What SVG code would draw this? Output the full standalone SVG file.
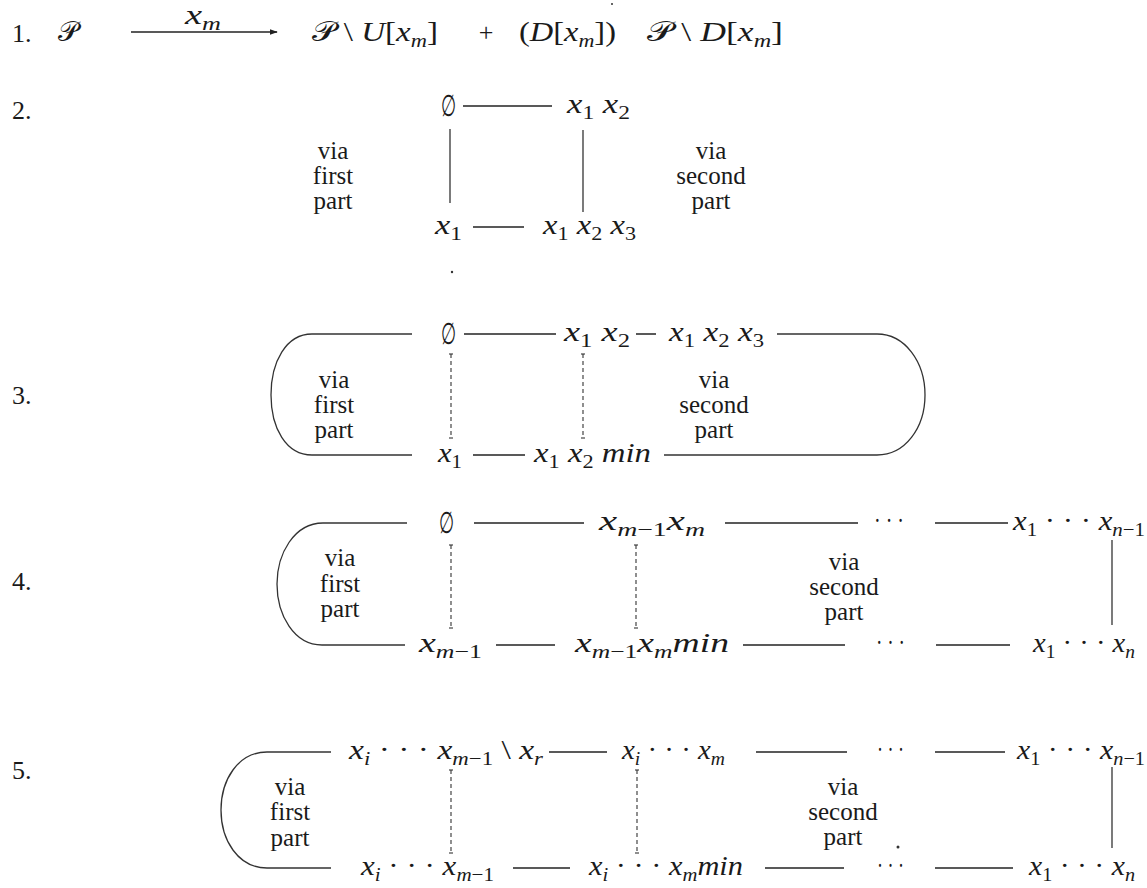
<svg xmlns="http://www.w3.org/2000/svg" width="1147" height="888" viewBox="0 0 1147 888">
<defs>
<style>
text{font-family:"Liberation Serif","Times New Roman","DejaVu Serif",serif;fill:#1a1a1a}
.n{font-size:26px}
.m{font-size:28px;font-style:italic}
.u{font-style:normal}
.sb{font-size:19px}
.w{font-size:25px;text-anchor:middle}
.cal{font-family:"DejaVu Sans","Noto Sans",sans-serif;font-style:normal;font-weight:normal}
.e{font-size:30px;font-style:normal}
.ln{stroke:#222;stroke-width:1.5;fill:none}
.th{stroke:#333;stroke-width:1.3;fill:none}
.dash{stroke:#333;stroke-width:1.1;stroke-dasharray:4 3;fill:none}
.tk{stroke:#333;stroke-width:1.1}
</style>
<marker id="ah" viewBox="0 0 10 10" refX="9" refY="5" markerWidth="8" markerHeight="8" orient="auto" markerUnits="userSpaceOnUse">
<path d="M0,1.5 L10,5 L0,8.5 z" fill="#222"/>
</marker>
</defs>
<g font-family="Liberation Serif, DejaVu Serif, serif">

<!-- Row labels -->
<g id="labels">
<text class="n" x="12" y="42">1.</text>
<text class="n" x="12" y="119">2.</text>
<text class="n" x="12" y="404">3.</text>
<text class="n" x="12" y="590">4.</text>
<text class="n" x="12" y="779">5.</text>
</g>

<!-- Row 1 -->
<g id="r1-P"><text class="m" x="58" y="41"><tspan class="cal">𝒫</tspan></text></g>
<g id="r1-xm"><text class="m" x="185" y="24" textLength="36" lengthAdjust="spacingAndGlyphs">x<tspan class="sb" dy="6">m</tspan></text></g>
<g id="r1-PU"><text class="m" x="312" y="41" textLength="126" lengthAdjust="spacingAndGlyphs"><tspan class="cal">𝒫</tspan><tspan class="u"> \ </tspan>U<tspan class="u">[</tspan>x<tspan class="sb" dy="6">m</tspan><tspan class="u" dy="-6">]</tspan></text></g>
<g id="r1-plus"><text class="n" x="486" y="41" text-anchor="middle">+</text></g>
<g id="r1-D"><text class="m" x="519" y="41" textLength="97" lengthAdjust="spacingAndGlyphs"><tspan class="u">(</tspan>D<tspan class="u">[</tspan>x<tspan class="sb" dy="6">m</tspan><tspan class="u" dy="-6">])</tspan></text></g>
<g id="r1-PD"><text class="m" x="647" y="41" textLength="136" lengthAdjust="spacingAndGlyphs"><tspan class="cal">𝒫</tspan><tspan class="u"> \ </tspan>D<tspan class="u">[</tspan>x<tspan class="sb" dy="6">m</tspan><tspan class="u" dy="-6">]</tspan></text></g>

<!-- Row 2 -->
<g id="r2-empty"><text class="e" x="441" y="116" textLength="15" lengthAdjust="spacingAndGlyphs">∅</text></g>
<g id="r2-x1x2"><text class="m" x="567" y="113" textLength="63" lengthAdjust="spacingAndGlyphs">x<tspan class="sb u" dy="6">1</tspan><tspan dy="-6"> x</tspan><tspan class="sb u" dy="6">2</tspan></text></g>
<g id="r2-x1"><text class="m" x="435" y="234" textLength="27" lengthAdjust="spacingAndGlyphs">x<tspan class="sb u" dy="6">1</tspan></text></g>
<g id="r2-x1x2x3"><text class="m" x="543" y="234" textLength="93" lengthAdjust="spacingAndGlyphs">x<tspan class="sb u" dy="6">1</tspan><tspan dy="-6"> x</tspan><tspan class="sb u" dy="6">2</tspan><tspan dy="-6"> x</tspan><tspan class="sb u" dy="6">3</tspan></text></g>
<g id="r2-via1"><text class="w" x="333" y="159">via</text><text class="w" x="333" y="184">first</text><text class="w" x="333" y="209">part</text></g>
<g id="r2-via2"><text class="w" x="711" y="159">via</text><text class="w" x="711" y="184">second</text><text class="w" x="711" y="209">part</text></g>

<!-- Row 3 -->
<g id="r3-empty"><text class="e" x="441" y="344" textLength="15" lengthAdjust="spacingAndGlyphs">∅</text></g>
<g id="r3-x1x2"><text class="m" x="564" y="341" textLength="66" lengthAdjust="spacingAndGlyphs">x<tspan class="sb u" dy="6">1</tspan><tspan dy="-6"> x</tspan><tspan class="sb u" dy="6">2</tspan></text></g>
<g id="r3-x1x2x3"><text class="m" x="669" y="341" textLength="95" lengthAdjust="spacingAndGlyphs">x<tspan class="sb u" dy="6">1</tspan><tspan dy="-6"> x</tspan><tspan class="sb u" dy="6">2</tspan><tspan dy="-6"> x</tspan><tspan class="sb u" dy="6">3</tspan></text></g>
<g id="r3-x1"><text class="m" x="438" y="462" textLength="24" lengthAdjust="spacingAndGlyphs">x<tspan class="sb u" dy="6">1</tspan></text></g>
<g id="r3-x1x2min"><text class="m" x="534" y="462" textLength="117" lengthAdjust="spacingAndGlyphs">x<tspan class="sb u" dy="6">1</tspan><tspan dy="-6"> x</tspan><tspan class="sb u" dy="6">2</tspan><tspan dy="-6"> min</tspan></text></g>
<g id="r3-via1"><text class="w" x="334" y="388">via</text><text class="w" x="334" y="413">first</text><text class="w" x="334" y="438">part</text></g>
<g id="r3-via2"><text class="w" x="714" y="388">via</text><text class="w" x="714" y="413">second</text><text class="w" x="714" y="438">part</text></g>

<!-- Row 4 -->
<g id="r4-empty"><text class="e" x="439" y="533" textLength="15" lengthAdjust="spacingAndGlyphs">∅</text></g>
<g id="r4-xm1xm"><text class="m" x="599" y="530" textLength="106" lengthAdjust="spacingAndGlyphs">x<tspan class="sb" dy="6">m<tspan class="u">−1</tspan></tspan><tspan dy="-6">x</tspan><tspan class="sb" dy="6">m</tspan></text></g>
<g id="r4-dots1"><text class="m u" x="874" y="530" textLength="30" lengthAdjust="spacingAndGlyphs">· · ·</text></g>
<g id="r4-x1xn1"><text class="m" x="1013" y="530" textLength="132" lengthAdjust="spacingAndGlyphs">x<tspan class="sb u" dy="6">1</tspan><tspan class="u" dy="-6"> · · · </tspan>x<tspan class="sb" dy="6">n<tspan class="u">−1</tspan></tspan></text></g>
<g id="r4-xm1"><text class="m" x="419" y="652" textLength="63" lengthAdjust="spacingAndGlyphs">x<tspan class="sb" dy="6">m<tspan class="u">−1</tspan></tspan></text></g>
<g id="r4-xm1xmmin"><text class="m" x="575" y="652" textLength="154" lengthAdjust="spacingAndGlyphs">x<tspan class="sb" dy="6">m<tspan class="u">−1</tspan></tspan><tspan dy="-6">x</tspan><tspan class="sb" dy="6">m</tspan><tspan dy="-6">min</tspan></text></g>
<g id="r4-dots2"><text class="m u" x="876" y="652" textLength="29" lengthAdjust="spacingAndGlyphs">· · ·</text></g>
<g id="r4-x1xn"><text class="m" x="1033" y="652" textLength="102" lengthAdjust="spacingAndGlyphs">x<tspan class="sb u" dy="6">1</tspan><tspan class="u" dy="-6"> · · · </tspan>x<tspan class="sb" dy="6">n</tspan></text></g>
<g id="r4-via1"><text class="w" x="340" y="566">via</text><text class="w" x="340" y="592">first</text><text class="w" x="340" y="617">part</text></g>
<g id="r4-via2"><text class="w" x="844" y="570">via</text><text class="w" x="844" y="595">second</text><text class="w" x="844" y="620">part</text></g>

<!-- Row 5 -->
<g id="r5-top1"><text class="m" x="349" y="759" textLength="194" lengthAdjust="spacingAndGlyphs">x<tspan class="sb" dy="6">i</tspan><tspan class="u" dy="-6"> · · · </tspan>x<tspan class="sb" dy="6">m<tspan class="u">−1</tspan></tspan><tspan class="u" dy="-6"> \ </tspan>x<tspan class="sb" dy="6">r</tspan></text></g>
<g id="r5-top2"><text class="m" x="622" y="759" textLength="103" lengthAdjust="spacingAndGlyphs">x<tspan class="sb" dy="6">i</tspan><tspan class="u" dy="-6"> · · · </tspan>x<tspan class="sb" dy="6">m</tspan></text></g>
<g id="r5-dots1"><text class="m u" x="877" y="759" textLength="27" lengthAdjust="spacingAndGlyphs">· · ·</text></g>
<g id="r5-x1xn1"><text class="m" x="1017" y="759" textLength="128" lengthAdjust="spacingAndGlyphs">x<tspan class="sb u" dy="6">1</tspan><tspan class="u" dy="-6"> · · · </tspan>x<tspan class="sb" dy="6">n<tspan class="u">−1</tspan></tspan></text></g>
<g id="r5-bot1"><text class="m" x="361" y="875" textLength="133" lengthAdjust="spacingAndGlyphs">x<tspan class="sb" dy="6">i</tspan><tspan class="u" dy="-6"> · · · </tspan>x<tspan class="sb" dy="6">m<tspan class="u">−1</tspan></tspan></text></g>
<g id="r5-bot2"><text class="m" x="589" y="875" textLength="154" lengthAdjust="spacingAndGlyphs">x<tspan class="sb" dy="6">i</tspan><tspan class="u" dy="-6"> · · · </tspan>x<tspan class="sb" dy="6">m</tspan><tspan dy="-6">min</tspan></text></g>
<g id="r5-dots2"><text class="m u" x="877" y="875" textLength="27" lengthAdjust="spacingAndGlyphs">· · ·</text></g>
<g id="r5-x1xn"><text class="m" x="1029" y="875" textLength="106" lengthAdjust="spacingAndGlyphs">x<tspan class="sb u" dy="6">1</tspan><tspan class="u" dy="-6"> · · · </tspan>x<tspan class="sb" dy="6">n</tspan></text></g>
<g id="r5-via1"><text class="w" x="290" y="795">via</text><text class="w" x="290" y="820">first</text><text class="w" x="290" y="846">part</text></g>
<g id="r5-via2"><text class="w" x="843" y="795">via</text><text class="w" x="843" y="820">second</text><text class="w" x="843" y="845">part</text></g>

<!-- Connectors -->
<g id="connectors">
<!-- row 1 -->
<line class="ln" x1="131" y1="32" x2="277" y2="32" marker-end="url(#ah)"/>
<!-- row 2 -->
<line class="ln" x1="463" y1="106" x2="552" y2="106"/>
<line class="th" x1="450" y1="129" x2="450" y2="203"/>
<line class="th" x1="583" y1="130" x2="583" y2="212"/>
<line class="ln" x1="473" y1="227" x2="524" y2="227"/>
<!-- row 3 -->
<path class="th" d="M412,334 L312,334 C286,334 271,362 271,395 C271,428 286,455 312,455 L412,455"/>
<line class="ln" x1="464" y1="334" x2="556" y2="334"/>
<line class="ln" x1="636" y1="334" x2="656" y2="334"/>
<path class="th" d="M777,334 L877,334 C905,334 925,362 925,395 C925,428 905,455 877,455 L664,455"/>
<line class="ln" x1="473" y1="455" x2="525" y2="455"/>
<line class="dash" x1="451" y1="354" x2="451" y2="438"/>
<line class="tk" x1="449" y1="354" x2="453" y2="354"/>
<line class="tk" x1="449" y1="438" x2="453" y2="438"/>
<line class="dash" x1="583" y1="354" x2="583" y2="438"/>
<line class="tk" x1="581" y1="354" x2="585" y2="354"/>
<line class="tk" x1="581" y1="438" x2="585" y2="438"/>
<!-- row 4 -->
<path class="th" d="M407,523 L323,523 C294,523 277,554 277,584 C277,615 294,645 322,645 L405,645"/>
<line class="ln" x1="474" y1="523" x2="584" y2="523"/>
<line class="ln" x1="725" y1="523" x2="858" y2="523"/>
<line class="ln" x1="935" y1="523" x2="1008" y2="523"/>
<line class="th" x1="1112" y1="540" x2="1112" y2="625"/>
<line class="dash" x1="451" y1="545" x2="451" y2="628"/>
<line class="tk" x1="449" y1="545" x2="453" y2="545"/>
<line class="tk" x1="449" y1="628" x2="453" y2="628"/>
<line class="dash" x1="636" y1="545" x2="636" y2="628"/>
<line class="tk" x1="634" y1="545" x2="638" y2="545"/>
<line class="tk" x1="634" y1="628" x2="638" y2="628"/>
<line class="ln" x1="496" y1="645" x2="555" y2="645"/>
<line class="ln" x1="743" y1="645" x2="845" y2="645"/>
<line class="ln" x1="936" y1="645" x2="1010" y2="645"/>
<!-- row 5 -->
<path class="th" d="M331,752 L267,752 C238,752 221,780 221,810 C221,840 238,868 267,868 L331,868"/>
<line class="ln" x1="549" y1="752" x2="607" y2="752"/>
<line class="ln" x1="756" y1="752" x2="847" y2="752"/>
<line class="ln" x1="935" y1="752" x2="1005" y2="752"/>
<line class="th" x1="1112" y1="767" x2="1112" y2="848"/>
<line class="dash" x1="451" y1="770" x2="451" y2="853"/>
<line class="tk" x1="449" y1="770" x2="453" y2="770"/>
<line class="tk" x1="449" y1="853" x2="453" y2="853"/>
<line class="dash" x1="637" y1="770" x2="637" y2="853"/>
<line class="tk" x1="635" y1="770" x2="639" y2="770"/>
<line class="tk" x1="635" y1="853" x2="639" y2="853"/>
<line class="ln" x1="513" y1="868" x2="570" y2="868"/>
<line class="ln" x1="765" y1="868" x2="844" y2="868"/>
<line class="ln" x1="935" y1="868" x2="1013" y2="868"/>
</g>

<!-- specks printed in the picture -->
<g id="specks" fill="#333">
<circle cx="612" cy="4" r="1"/>
<circle cx="452" cy="272" r="1.2"/>
<circle cx="898" cy="847" r="1.5"/>
</g>
</g>
</svg>
